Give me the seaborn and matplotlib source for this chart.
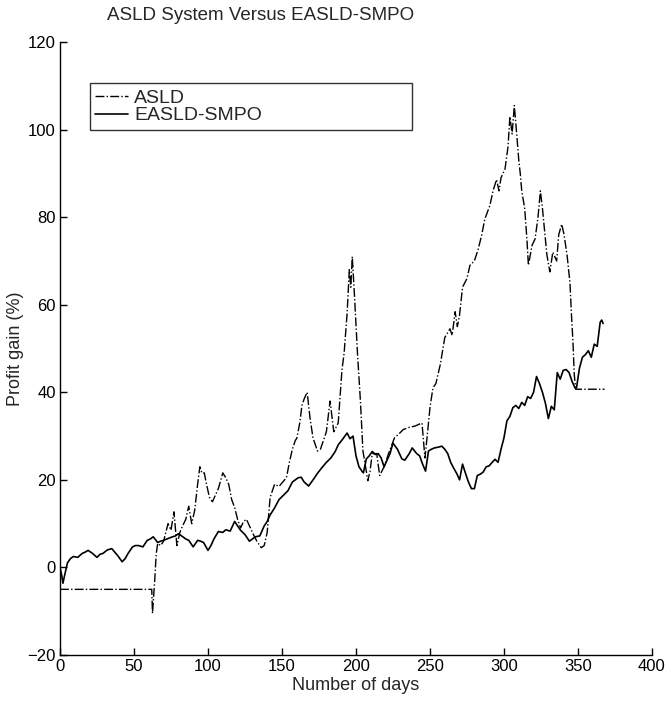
import pandas as pd
import seaborn as sns
import matplotlib.pyplot as plt

# EASLD-SMPO (solid line)
smpo_days = [0, 1, 2, 3, 5, 7, 9, 12, 15, 17, 19, 22, 25, 27, 29, 32, 35, 37, 39, 42,
             44, 46, 49, 51, 53, 56, 59, 61, 63, 66, 68, 70, 73, 76, 78, 80, 83, 85, 87, 90,
             93, 95, 97, 100, 102, 104, 107, 110, 112, 115, 118, 120, 122, 125, 128, 130, 132, 135, 138, 140,
             142, 145, 148, 151, 154, 157, 159, 161, 163, 165, 168, 171, 174, 177, 180, 183, 186, 188, 191, 194,
             196, 198, 200, 202, 204, 205, 207, 209, 211, 213, 215, 217, 219, 221, 223, 225, 228, 231, 233, 236,
             238, 241, 243, 245, 247, 249, 251, 253, 256, 258, 260, 262, 264, 266, 268, 270, 272, 274, 276, 278,
             280, 282, 284, 286, 288, 290, 292, 294, 296, 298, 300, 302, 304, 306, 308, 310, 312, 314, 316, 318,
             320, 322, 324, 326, 328, 330, 332, 334, 336, 338, 340, 342, 344, 346, 348, 349, 351, 353, 355, 357,
             359, 361, 363, 365, 366, 367]
smpo_gain = [0, -1.5, -3.6, -2, 1, 2, 2.5, 2.3, 3.2, 3.5, 3.9, 3.2, 2.3, 3, 3.2, 4, 4.3, 3.5, 2.7, 1.3,
             2, 3.2, 4.7, 5, 5, 4.7, 6.2, 6.5, 7, 5.7, 6, 6.2, 6.6, 7, 7.2, 7.7, 7, 6.5, 6.2, 4.7,
             6.2, 6, 5.7, 3.9, 5, 6.5, 8.2, 8, 8.6, 8.3, 10.5, 9.5, 8.5, 7.5, 6, 6.5, 7, 7.2, 9.5, 10.5,
             12, 13.6, 15.5, 16.5, 17.5, 19.5, 20, 20.5, 20.6, 19.5, 18.6, 20, 21.5, 22.8, 24, 25, 26.5, 28, 29.3, 30.7,
             29.4, 30, 25.5, 23, 22, 21.6, 24.8, 25.5, 26.5, 25.8, 26, 25, 23, 24.5, 26, 28.4, 27, 24.8, 24.5, 26,
             27.3, 26, 25.5, 23.6, 22, 26.6, 27, 27.3, 27.5, 27.7, 27, 26, 24, 22.7, 21.5, 20, 23.6, 21.5, 19.5, 18,
             18, 21, 21.3, 21.8, 23, 23.2, 24, 24.7, 24, 27, 29.6, 33.5, 34.5, 36.5, 37, 36.3, 37.7, 37, 39, 38.6,
             40, 43.6, 42, 40, 37.5, 34, 36.8, 36, 44.5, 43, 45, 45.2, 44.5, 42.5, 41, 41, 45.5, 48, 48.6, 49.5,
             48, 51, 50.5, 56, 56.5, 55.7]

# ASLD (dash-dot line)
asld_days = [0, 62, 62.5, 64, 65, 66, 68, 70, 73, 75, 77, 79, 81, 83, 85, 87, 89, 91, 93, 94.5,
             96, 97.5, 99, 101, 103, 105, 107, 110, 112, 114, 116, 118, 120, 122, 124, 126, 128, 130, 133, 136,
             138, 140, 142, 145, 148, 150, 153, 155, 157, 159, 160, 162, 163.5, 165, 167, 169, 171, 174, 176, 178,
             180, 182.5, 185, 188, 190.5, 192, 194, 195.5, 196.5, 197.5, 199, 201, 203, 204.7, 206, 208, 209.5, 211, 214, 216,
             219, 222, 226, 229, 232, 236, 240, 244.6, 246.6, 248, 250, 252, 254, 257, 260, 263.5, 265, 267, 268.5, 270,
             272, 275, 277, 280, 282.6, 285, 287, 290.5, 292.6, 295, 296.6, 298, 300.7, 302.7, 304, 305.5, 307, 308.6, 310, 311,
             312, 313, 314, 315.5, 316.5, 319, 321, 323, 324.6, 326, 327.5, 329, 331, 333, 335.6, 337, 339, 340.6, 342.6, 344.6,
             345.6, 346.6, 347.5, 348.5, 368]
asld_gain = [-5, -5, -10.5, -3, 3, 5.5, 5, 6, 10, 8.5, 12.7, 5, 8, 9.6, 11, 14, 10, 13, 19, 23,
             21.5, 21.6, 19, 16, 15, 16.5, 18, 21.6, 20.5, 19, 15.5, 13.7, 11, 9, 10.5, 11, 9.5, 8, 6, 4.5,
             5, 8, 16, 19, 18.5, 19.3, 20.5, 24, 27, 29, 29.5, 33, 37, 38.5, 40, 34, 29.5, 26.6, 27, 29,
             31, 38, 31, 33, 45, 49, 58, 68, 64, 71, 62, 49, 38, 26.6, 24, 19.8, 22, 26, 26, 21,
             23, 26, 29.6, 30.5, 31.5, 32, 32.3, 33, 25, 29.6, 36.5, 41, 42, 46.4, 52.5, 54.5, 53, 58.4, 55, 57.7,
             64, 66, 69, 70, 72.7, 76, 79.5, 82.7, 86, 88.6, 86, 89, 91, 96, 103, 99, 105.5, 99, 93, 90,
             86, 84, 82, 75, 69, 73.6, 75, 80, 86, 82, 76.6, 71.4, 67.5, 72, 70, 76, 78.4, 76, 71.4, 65,
             57.7, 51.6, 44, 40.7, 40.7]

x_ticks = [0, 50, 100, 150, 200, 250, 300, 350, 400]
y_ticks = [-20, 0, 20, 40, 60, 80, 100, 120]

sns.set_style('ticks')
plt.rcParams['font.family'] = ['Liberation Sans', 'DejaVu Sans']
plt.rcParams['xtick.direction'] = 'in'
plt.rcParams['ytick.direction'] = 'in'

fig = plt.figure(figsize=(6.68, 7.06), dpi=100)
ax = fig.add_axes([0.0898, 0.0722, 0.8862, 0.8683])

asld = pd.DataFrame({'day': asld_days, 'gain': asld_gain})
smpo = pd.DataFrame({'day': smpo_days, 'gain': smpo_gain})

sns.lineplot(data=asld, x='day', y='gain', ax=ax, color='black', linestyle='-.',
             linewidth=1.0, estimator=None, label='ASLD')
sns.lineplot(data=smpo, x='day', y='gain', ax=ax, color='black', linestyle='-',
             linewidth=1.2, estimator=None, label='EASLD-SMPO')

ax.set_xlim(0, 400)
ax.set_ylim(-20, 120)
ax.set_xticks(x_ticks)
ax.set_yticks(y_ticks)
ax.tick_params(labelsize=12, length=5, width=1, colors='black', pad=3)
for s in ['top', 'right']:
    ax.spines[s].set_visible(False)
for s in ['left', 'bottom']:
    ax.spines[s].set_color('black')
    ax.spines[s].set_linewidth(1.0)

ax.set_xlabel('Number of days', fontsize=13, labelpad=2)
ax.set_ylabel('Profit gain (%)', fontsize=13)
ax.yaxis.set_label_coords(-0.060, 0.5)

leg = ax.legend(loc='lower left', bbox_to_anchor=(0.05, 0.856, 0.545, 0.09), mode='expand',
                fontsize=14, handlelength=1.7, handletextpad=0.3, labelspacing=0.0,
                borderpad=0.3, borderaxespad=0, frameon=True, fancybox=False)
leg.get_frame().set_edgecolor('black')
leg.get_frame().set_linewidth(1.0)

fig.text(261 / 668, 1 - 15 / 706, 'ASLD System Versus EASLD-SMPO', ha='center', va='center', fontsize=13.5)

fig.savefig('out.png', dpi=100)
